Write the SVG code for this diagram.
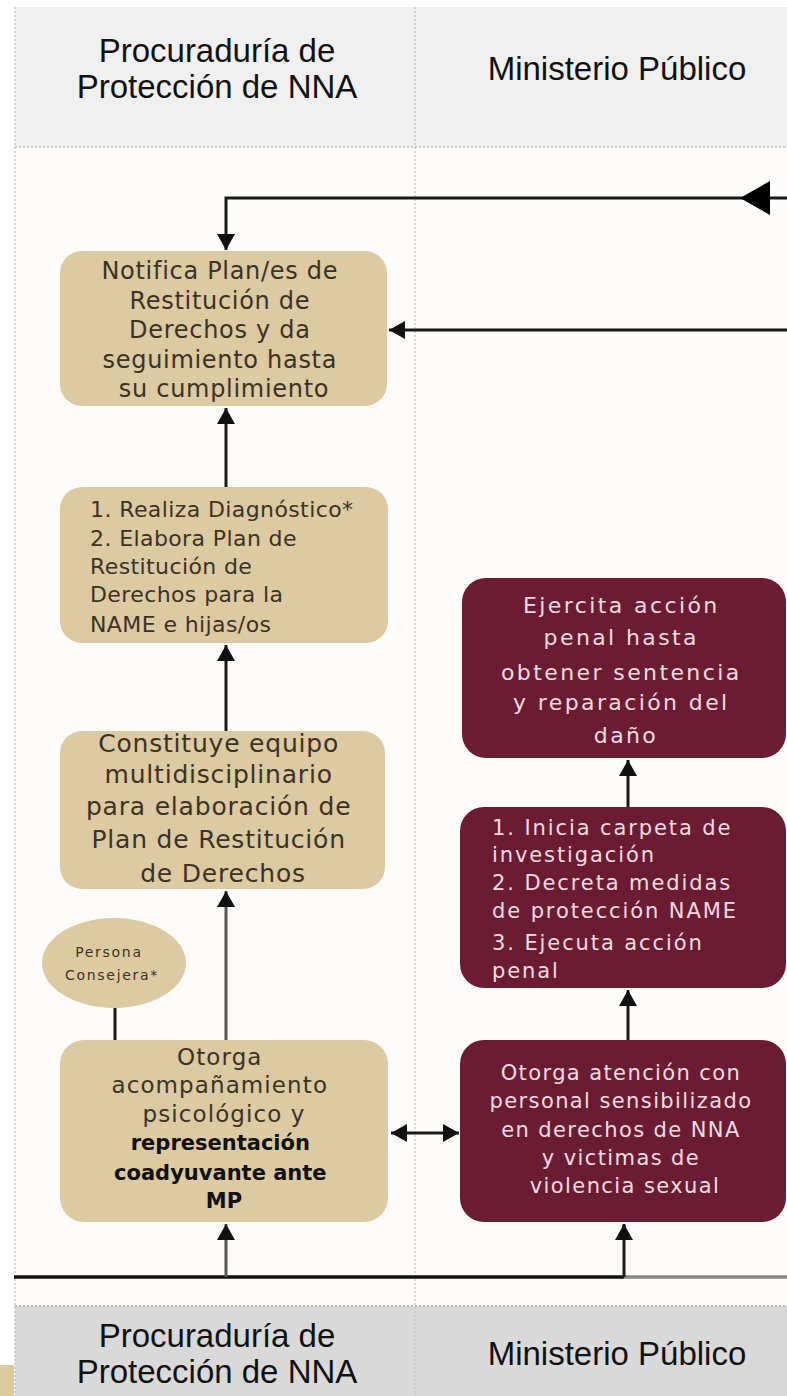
<svg xmlns="http://www.w3.org/2000/svg" width="787" height="1396" viewBox="0 0 787 1396">
<defs>
<style>
.hdr{font-family:"Liberation Sans",Arial,sans-serif;font-size:33px;fill:#111;text-anchor:middle}
.tan{fill:#DDC9A2}
.mar{fill:#6B1C32}
.tt{font-family:"DejaVu Sans",sans-serif;fill:#3b3325}
.mt{font-family:"DejaVu Sans",sans-serif;fill:#f1dce3}
.c{fill:none;stroke:#1a1a1a;stroke-width:3}
.cg{fill:none;stroke:#555;stroke-width:3}
</style>
<marker id="ah" markerWidth="18" markerHeight="18" refX="16" refY="9" orient="auto-start-reverse" markerUnits="userSpaceOnUse"><path d="M0,0 L16,9 L0,18 z" fill="#111"/></marker>
<marker id="big" markerWidth="32" markerHeight="34" refX="30" refY="17" orient="auto" markerUnits="userSpaceOnUse"><path d="M0,0 L30,17 L0,34 z" fill="#000"/></marker>
</defs>
<rect width="787" height="1396" fill="#fff"/>
<rect x="15" y="147" width="772" height="1159" fill="#fdfcfa"/>
<!-- headers -->
<g id="header-top">
<rect x="15" y="7" width="772" height="140" fill="#f0f0f0"/>
<line x1="15" y1="147" x2="787" y2="147" stroke="#bbb" stroke-width="1.5" stroke-dasharray="2,2"/>
<text class="hdr" x="217" y="62">Procuraduría de</text>
<text class="hdr" x="217" y="98">Protección de NNA</text>
<text class="hdr" x="617" y="80">Ministerio Público</text>
</g>
<g id="header-bottom">
<rect x="15" y="1306" width="772" height="90" fill="#d9d9d9"/>
<line x1="15" y1="1306" x2="787" y2="1306" stroke="#aaa" stroke-width="1.5" stroke-dasharray="2,2"/>
<text class="hdr" x="217" y="1347">Procuraduría de</text>
<text class="hdr" x="217" y="1383">Protección de NNA</text>
<text class="hdr" x="617" y="1365">Ministerio Público</text>
</g>
<rect x="0" y="1365" width="14" height="31" class="tan"/>
<line x1="15" y1="7" x2="15" y2="1396" stroke="#c8c8c8" stroke-width="1.5" stroke-dasharray="2,2"/>
<line x1="415" y1="7" x2="415" y2="1396" stroke="#c8c8c8" stroke-width="1.5" stroke-dasharray="2,2"/>

<!-- connectors -->
<g id="connectors">
<path class="c" d="M787,198 L740,198" marker-end="url(#big)"/>
<path class="c" d="M740,198 L226,198 L226,250" marker-end="url(#ah)"/>
<path class="c" d="M787,330 L389,330" marker-end="url(#ah)"/>
<path class="c" d="M226,487 L226,408" marker-end="url(#ah)"/>
<path class="c" d="M226,731 L226,645" marker-end="url(#ah)"/>
<path class="cg" d="M226,1040 L226,891" marker-end="url(#ah)"/>
<path class="c" d="M115,1008 L115,1040"/>
<path class="c" d="M459,1133 L391,1133" marker-start="url(#ah)" marker-end="url(#ah)"/>
<path class="c" d="M628,807 L628,760" marker-end="url(#ah)"/>
<path class="c" d="M628,1040 L628,990" marker-end="url(#ah)"/>
<path fill="none" stroke="#111" stroke-width="3.5" d="M14,1277 L624,1277"/>
<path fill="none" stroke="#888" stroke-width="3.5" d="M624,1277 L787,1277"/>
<path class="cg" d="M226,1277 L226,1224" marker-end="url(#ah)"/>
<path class="c" d="M624,1277 L624,1224" marker-end="url(#ah)"/>
</g>

<!-- nodes -->
<g id="n-notifica">
<rect x="60" y="251" width="327" height="155" rx="22" class="tan"/>
<text class="tt" font-size="24" letter-spacing="0.7" text-anchor="middle">
<tspan x="224" y="279">Notifica Plan/es de</tspan>
<tspan x="224" y="309">Restitución de</tspan>
<tspan x="224" y="338">Derechos y da</tspan>
<tspan x="224" y="368">seguimiento hasta</tspan>
<tspan x="224" y="397">su cumplimiento</tspan>
</text>
</g>
<g id="n-diagnostico">
<rect x="60" y="487" width="328" height="156" rx="22" class="tan"/>
<text class="tt" font-size="22" letter-spacing="0.4">
<tspan x="90" y="517">1. Realiza Diagnóstico*</tspan>
<tspan x="90" y="546">2. Elabora Plan de</tspan>
<tspan x="90" y="574">Restitución de</tspan>
<tspan x="90" y="602">Derechos para la</tspan>
<tspan x="90" y="632">NAME e hijas/os</tspan>
</text>
</g>
<g id="n-equipo">
<rect x="60" y="731" width="325" height="158" rx="22" class="tan"/>
<text class="tt" font-size="25" letter-spacing="0.8" text-anchor="middle">
<tspan x="223" y="752">Constituye equipo</tspan>
<tspan x="223" y="783">multidisciplinario</tspan>
<tspan x="223" y="815">para elaboración de</tspan>
<tspan x="223" y="848">Plan de Restitución</tspan>
<tspan x="223" y="882">de Derechos</tspan>
</text>
</g>
<g id="n-consejera">
<ellipse cx="114" cy="963" rx="72" ry="45" class="tan"/>
<text class="tt" font-size="14" letter-spacing="1.7" text-anchor="middle">
<tspan x="112" y="957">Persona</tspan>
<tspan x="112" y="980">Consejera*</tspan>
</text>
</g>
<g id="n-acompanamiento">
<rect x="60" y="1040" width="328" height="182" rx="24" class="tan"/>
<text class="tt" font-size="23" letter-spacing="1.1" text-anchor="middle">
<tspan x="224" y="1065">Otorga</tspan>
<tspan x="224" y="1093">acompañamiento</tspan>
<tspan x="224" y="1122">psicológico y</tspan>
</text>
<text font-family="DejaVu Sans,sans-serif" font-weight="bold" font-size="21" fill="#111" text-anchor="middle">
<tspan x="224" y="1150">representación</tspan>
<tspan x="224" y="1180">coadyuvante ante</tspan>
<tspan x="224" y="1208">MP</tspan>
</text>
</g>
<g id="n-ejercita">
<rect x="462" y="578" width="324" height="180" rx="24" class="mar"/>
<text class="mt" font-size="22" letter-spacing="2.4" text-anchor="middle">
<tspan x="626" y="613">Ejercita acción</tspan>
<tspan x="626" y="645">penal hasta</tspan>
<tspan x="626" y="680">obtener sentencia</tspan>
<tspan x="626" y="710">y reparación del</tspan>
<tspan x="626" y="743">daño</tspan>
</text>
</g>
<g id="n-carpeta">
<rect x="460" y="807" width="326" height="181" rx="24" class="mar"/>
<text class="mt" font-size="21" letter-spacing="1.9">
<tspan x="492" y="835">1. Inicia carpeta de</tspan>
<tspan x="492" y="862">investigación</tspan>
<tspan x="492" y="890">2. Decreta medidas</tspan>
<tspan x="492" y="918">de protección NAME</tspan>
<tspan x="492" y="950">3. Ejecuta acción</tspan>
<tspan x="492" y="978">penal</tspan>
</text>
</g>
<g id="n-atencion">
<rect x="460" y="1040" width="326" height="182" rx="24" class="mar"/>
<text class="mt" font-size="21" letter-spacing="1.4" text-anchor="middle">
<tspan x="625" y="1080">Otorga atención con</tspan>
<tspan x="625" y="1108">personal sensibilizado</tspan>
<tspan x="625" y="1137">en derechos de NNA</tspan>
<tspan x="625" y="1165">y victimas de</tspan>
<tspan x="625" y="1193">violencia sexual</tspan>
</text>
</g>
</svg>
